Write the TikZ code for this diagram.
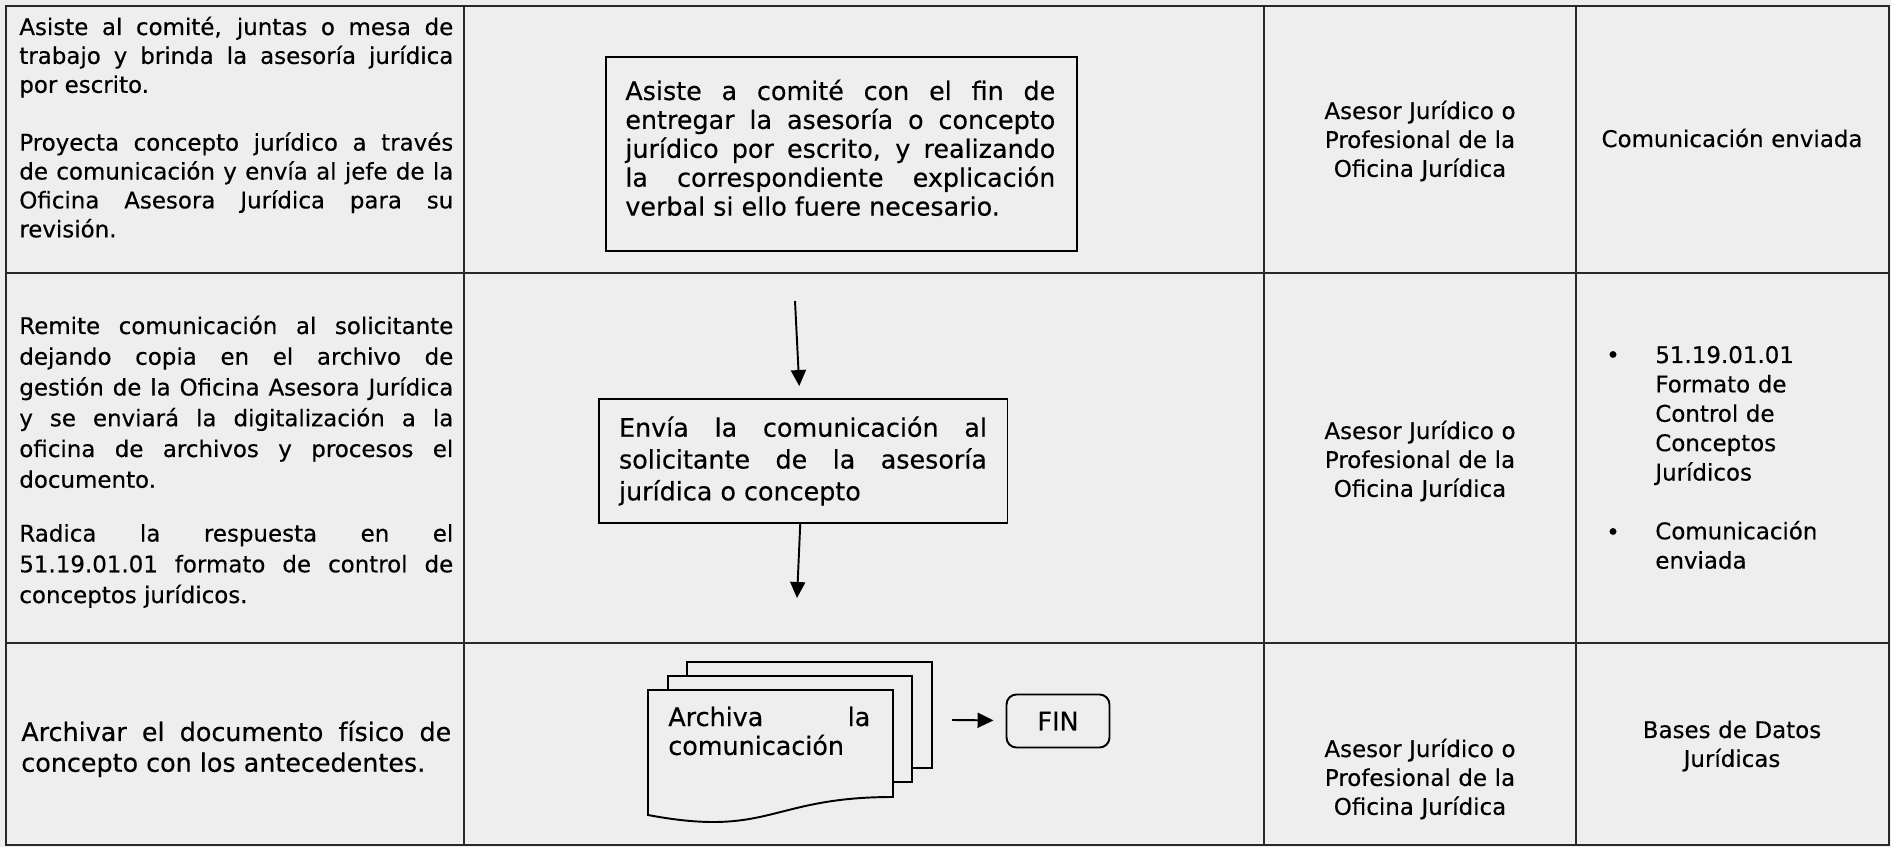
\documentclass[tikz,border=0pt]{standalone}
\usepackage{fontspec}
\setmainfont{DejaVu Sans}[FakeBold=0.4]
\usetikzlibrary{positioning, arrows.meta}
\definecolor{papercol}{RGB}{238,238,238}
\definecolor{linecol}{RGB}{40,40,40}
\tolerance=10000
\hbadness=10000
\hyphenpenalty=10000
\newcommand{\cellfont}{\fontsize{13.05}{16.45}\selectfont}
\newcommand{\boxfont}{\fontsize{14.45}{16.45}\selectfont}

\begin{document}
\begin{tikzpicture}[x=0.02cm, y=-0.02cm,
    tablerule/.style={draw=linecol, line width=1.4pt},
    cell/.style={inner sep=0pt, anchor=base west, align=justify, text width=8.68cm},
    who/.style={inner sep=0pt, anchor=base, align=center, text width=5.8cm, font=\cellfont},
    actbox/.style={draw=black, line width=1.1pt, fill=papercol, inner xsep=0.41cm, inner ysep=0pt, align=justify},
    sheet/.style={draw=black, line width=1.1pt, fill=papercol},
    finbox/.style={draw=black, line width=1.1pt, rounded corners=0.2cm, minimum width=2.06cm, minimum height=1.06cm, inner sep=0pt, font=\boxfont},
    flow/.style={line width=1.1pt, -{Triangle[length=0.32cm, width=0.3cm]}}]
    \useasboundingbox (0,0) rectangle (1891,847);
    \fill[papercol] (0,0) rectangle (1891,847);
    % tabla
    \draw[tablerule] (6,6) rectangle (1889,845);
    \foreach \x in {464,1264,1576}
      \draw[tablerule] (\x,6) -- (\x,845);
    \draw[tablerule] (6,273) -- (1889,273);
    \draw[tablerule] (6,643) -- (1889,643);

    % fila 1
    \node[cell, font=\cellfont] (act1) at (19,35) {Asiste al comité, juntas o mesa de\linebreak trabajo y brinda la asesoría jurídica\linebreak por escrito.\par\vspace{\baselineskip}Proyecta concepto jurídico a través\linebreak de comunicación y envía al jefe de la\linebreak Oficina Asesora Jurídica para su\linebreak revisión.};
    \node[actbox, minimum width=9.42cm, minimum height=3.88cm] (box1) at (841.5,154) {};
    \node[cell, text width=8.6cm, font=\boxfont] (box1txt) at (625,100) {Asiste a comité con el fin de\linebreak entregar la asesoría o concepto\linebreak jurídico por escrito, y realizando\linebreak la correspondiente explicación\linebreak verbal si ello fuere necesario.};
    \node[who] (resp1) at (1420,119) {Asesor Jurídico o\\Profesional de la\\Oficina Jurídica};
    \node[who] (out1) at (1732,147) {Comunicación enviada};

    % fila 2
    \node[cell, font={\fontsize{13.05}{17.5}\selectfont}] (act2) at (19,334) {Remite comunicación al solicitante\linebreak dejando copia en el archivo de\linebreak gestión de la Oficina Asesora Jurídica\linebreak y se enviará la digitalización a la\linebreak oficina de archivos y procesos el\linebreak documento.\par\vspace{0.75\baselineskip}Radica la respuesta en el\linebreak 51.19.01.01 formato de control de\linebreak conceptos jurídicos.};
    \coordinate (a1s) at (795,301);
    \node[actbox, text width=7.36cm, minimum height=2.48cm, font={\fontsize{14.45}{18.1}\selectfont}] (box2) at (803,461) {Envía la comunicación al\linebreak solicitante de la asesoría\linebreak jurídica o concepto};
    \coordinate (a2e) at (797,598);
    \draw[flow, shorten >=0.24cm] (a1s) -- (box2);
    \draw[flow] (box2) -- (a2e);
    \node[who] (resp2) at (1420,439) {Asesor Jurídico o\\Profesional de la\\Oficina Jurídica};
    \node[inner sep=0pt, anchor=base, font=\cellfont] (blt1) at (1613,363) {\textbullet};
    \node[inner sep=0pt, anchor=base, font=\cellfont] (blt2) at (1613,540) {\textbullet};
    \node[inner sep=0pt, anchor=base west, align=left, text width=4.2cm, font={\fontsize{13.05}{16.72}\selectfont}] (out2) at (1655,363) {51.19.01.01\\Formato de\\Control de\\Conceptos\\Jurídicos\\[\baselineskip]Comunicación\\enviada};

    % fila 3
    \node[cell, text width=8.6cm, font={\fontsize{14.45}{17.5}\selectfont}] (act3) at (21,741) {Archivar el documento físico de\linebreak concepto con los antecedentes.};
    \path[sheet] (687,662) rectangle (932,768);
    \path[sheet] (668,676) rectangle (912,782);
    \path[sheet] (648,690) -- (893,690) -- (893,797) .. controls (770,797) and (770,838) .. (648,815) -- cycle;
    \node[cell, text width=4.04cm, font=\boxfont] (doc) at (668,726) {Archiva la\linebreak comunicación};
    \coordinate (a3s) at (952,720);
    \node[finbox] (fin) at (1058,721) {FIN};
    \draw[flow, shorten >=0.24cm] (a3s) -- (fin);
    \node[who] (resp3) at (1420,757) {Asesor Jurídico o\\Profesional de la\\Oficina Jurídica};
    \node[who] (out3) at (1732,738) {Bases de Datos\\Jurídicas};
\end{tikzpicture}
\end{document}
